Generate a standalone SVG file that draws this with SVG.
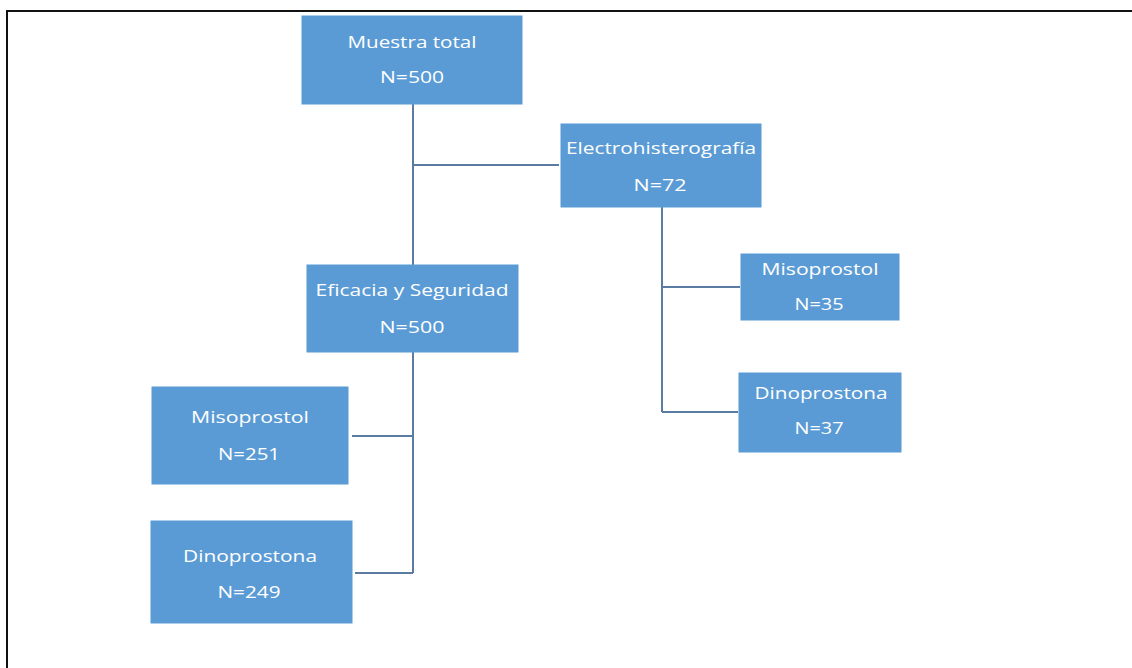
<svg xmlns="http://www.w3.org/2000/svg" width="1132" height="668" viewBox="0 0 1132 668">
<style>
.box{fill:#5b9bd5;stroke:#5b9bd5;stroke-width:1}
.t{fill:#ffffff;font-family:"Open Sans","Liberation Sans",sans-serif;font-size:17px;text-anchor:middle}
.c{fill:none;stroke:#5a7ca3;stroke-width:2}
</style>
<rect x="0" y="0" width="1132" height="668" fill="#ffffff"/>
<path d="M7,668 V11 H1132" fill="none" stroke="#111111" stroke-width="2"/>
<g id="connectors">
<path class="c" d="M413,104 V265"/>
<path class="c" d="M413,165 H559"/>
<path class="c" d="M662,207 V412"/>
<path class="c" d="M662,287 H740"/>
<path class="c" d="M662,412 H738"/>
<path class="c" d="M413,352 V573"/>
<path class="c" d="M352,436 H413"/>
<path class="c" d="M355,573 H413"/>
</g>
<g id="muestra">
<rect class="box" x="302" y="16" width="220" height="88"/>
<text class="t" x="412" y="48" textLength="129" lengthAdjust="spacingAndGlyphs">Muestra total</text>
<text class="t" x="412" y="83" textLength="64" lengthAdjust="spacingAndGlyphs">N=500</text>
</g>
<g id="electro">
<rect class="box" x="561" y="124" width="200" height="83"/>
<text class="t" x="661" y="154" textLength="190" lengthAdjust="spacingAndGlyphs">Electrohisterografía</text>
<text class="t" x="660" y="191" textLength="53" lengthAdjust="spacingAndGlyphs">N=72</text>
</g>
<g id="eficacia">
<rect class="box" x="307" y="265" width="211" height="87"/>
<text class="t" x="412" y="296" textLength="193" lengthAdjust="spacingAndGlyphs">Eficacia y Seguridad</text>
<text class="t" x="412" y="333" textLength="65" lengthAdjust="spacingAndGlyphs">N=500</text>
</g>
<g id="miso-left">
<rect class="box" x="152" y="387" width="196" height="97"/>
<text class="t" x="250" y="423" textLength="118" lengthAdjust="spacingAndGlyphs">Misoprostol</text>
<text class="t" x="249" y="460" textLength="62" lengthAdjust="spacingAndGlyphs">N=251</text>
</g>
<g id="dino-left">
<rect class="box" x="151" y="521" width="201" height="102"/>
<text class="t" x="250" y="562" textLength="134" lengthAdjust="spacingAndGlyphs">Dinoprostona</text>
<text class="t" x="249" y="598" textLength="63" lengthAdjust="spacingAndGlyphs">N=249</text>
</g>
<g id="miso-right">
<rect class="box" x="741" y="254" width="158" height="66"/>
<text class="t" x="820" y="275" textLength="117" lengthAdjust="spacingAndGlyphs">Misoprostol</text>
<text class="t" x="819" y="310" textLength="49" lengthAdjust="spacingAndGlyphs">N=35</text>
</g>
<g id="dino-right">
<rect class="box" x="739" y="373" width="162" height="79"/>
<text class="t" x="821" y="399" textLength="133" lengthAdjust="spacingAndGlyphs">Dinoprostona</text>
<text class="t" x="819" y="434" textLength="49" lengthAdjust="spacingAndGlyphs">N=37</text>
</g>
</svg>
